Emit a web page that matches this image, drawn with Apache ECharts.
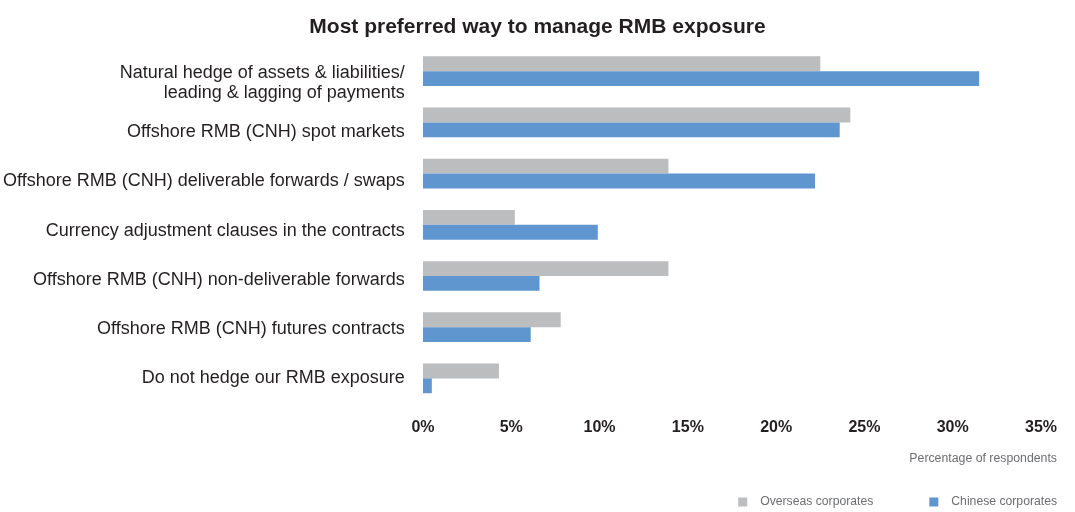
<!DOCTYPE html>
<html>
<head>
<meta charset="utf-8">
<script src="https://cdn.jsdelivr.net/npm/echarts@6/dist/echarts.min.js"></script>
<style>
html,body{margin:0;padding:0;background:#fff;}
#chart{width:1075px;height:512px;}
</style>
</head>
<body>
<div id="chart"></div>
<script>
var categories = [
  'Natural hedge of assets & liabilities/\nleading & lagging of payments',
  'Offshore RMB (CNH) spot markets',
  'Offshore RMB (CNH) deliverable forwards / swaps',
  'Currency adjustment clauses in the contracts',
  'Offshore RMB (CNH) non-deliverable forwards',
  'Offshore RMB (CNH) futures contracts',
  'Do not hedge our RMB exposure'
];
var overseas = [22.5, 24.2, 13.9, 5.2, 13.9, 7.8, 4.3];
var chinese = [31.5, 23.6, 22.2, 9.9, 6.6, 6.1, 0.5];
var seriesNames = ['Overseas corporates', 'Chinese corporates'];
var xMin = 0, xMax = 35, xStep = 5;

var FONT = '"Liberation Sans Narrow", "Liberation Sans", Arial, sans-serif';
var chart = echarts.init(document.getElementById('chart'));
chart.setOption({
  backgroundColor: '#ffffff',
  animation: false,
  title: {
    text: 'Most preferred way to manage RMB exposure',
    left: 'center',
    top: 12,
    textStyle: { fontFamily: FONT, fontWeight: 'bold', fontSize: 21, color: '#231f20' }
  },
  legend: {
    data: seriesNames,
    right: 18,
    top: 496,
    padding: 0,
    icon: 'rect',
    itemWidth: 9,
    itemHeight: 9,
    itemGap: 56,
    textStyle: { fontFamily: FONT, fontSize: 12.2, color: '#6d6e71', padding: [0, 0, 0, 8] }
  },
  graphic: [{
    type: 'text',
    right: 18,
    top: 453,
    style: { text: 'Percentage of respondents', fontFamily: FONT, fontSize: 12.3, fill: '#6d6e71' }
  }],
  grid: [
    { left: 423, width: 618, top: 45.6, height: 358.4, containLabel: false },
    { left: 423, width: 618, top: 58.4, height: 344.4, containLabel: false }
  ],
  xAxis: [{
    gridIndex: 0,
    type: 'value',
    min: xMin, max: xMax, interval: xStep,
    axisLine: { show: false }, axisTick: { show: false }, splitLine: { show: false },
    axisLabel: {
      formatter: '{value}%', margin: 16,
      fontFamily: FONT, fontWeight: 'bold', fontSize: 16, color: '#231f20'
    }
  }, {
    gridIndex: 1, type: 'value', min: xMin, max: xMax, show: false
  }],
  yAxis: [{
    gridIndex: 0,
    type: 'category', inverse: true, data: categories,
    axisLine: { show: false }, axisTick: { show: false }, axisLabel: { show: false }
  }, {
    gridIndex: 1,
    type: 'category', inverse: true, data: categories,
    axisLine: { show: false }, axisTick: { show: false },
    axisLabel: { margin: 22, fontFamily: FONT, fontSize: 18, lineHeight: 20, color: '#231f20' }
  }],
  series: [{
    name: seriesNames[0], type: 'bar', xAxisIndex: 0, yAxisIndex: 0,
    data: overseas, barGap: '0%', barCategoryGap: '42%',
    itemStyle: { color: '#bcbdbf' }
  }, {
    name: seriesNames[1], type: 'bar', xAxisIndex: 0, yAxisIndex: 0,
    data: chinese, barGap: '0%', barCategoryGap: '42%',
    itemStyle: { color: '#6096d0' }
  }]
});
</script>
</body>
</html>
